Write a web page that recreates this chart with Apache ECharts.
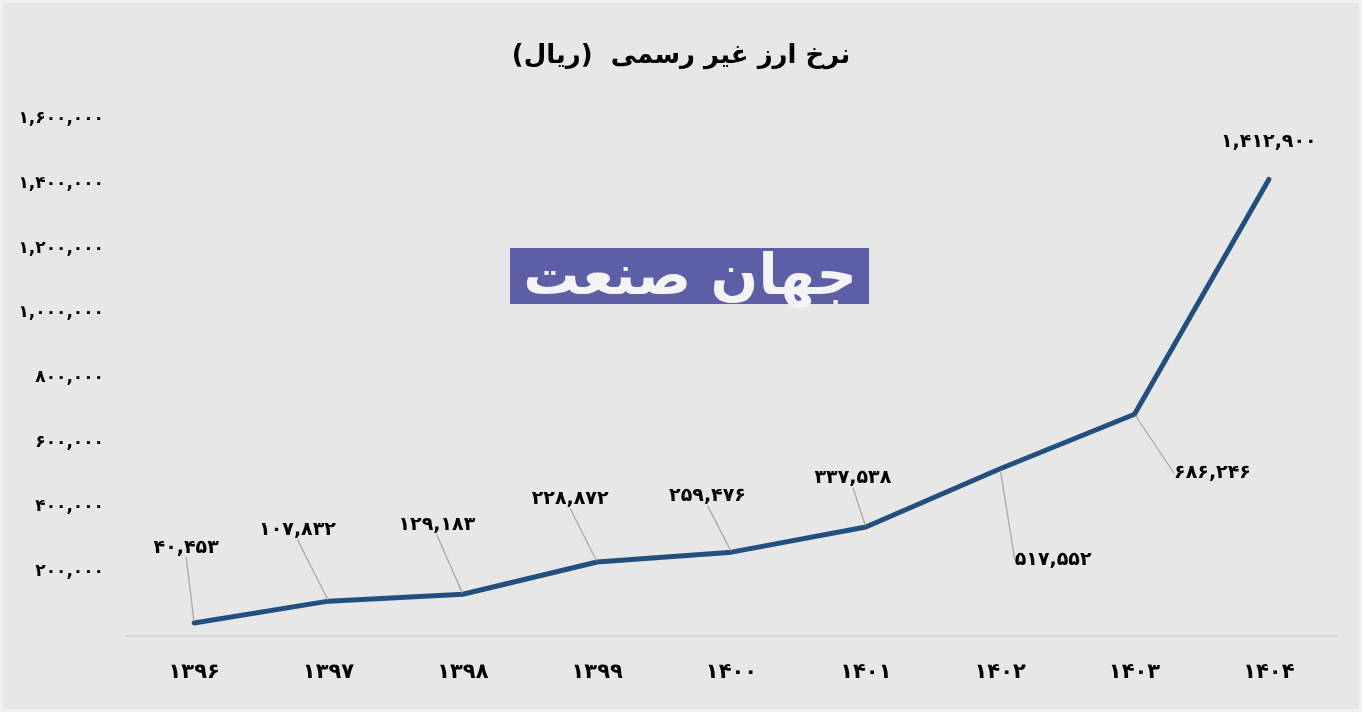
<!DOCTYPE html>
<html>
<head>
<meta charset="utf-8">
<script src="https://cdn.jsdelivr.net/npm/echarts@6/dist/echarts.min.js"></script>
<style>
  html, body { margin: 0; padding: 0; background: #f2f2f2; }
  #chart { width: 1362px; height: 712px; background: #e7e7e7; box-shadow: inset 0 0 0 3px #f0f0f0; }
</style>
</head>
<body>
<div id="chart"></div>
<script>
const titleText = 'نرخ ارز غیر رسمی  (ریال)';
const categories = ['۱۳۹۶', '۱۳۹۷', '۱۳۹۸', '۱۳۹۹', '۱۴۰۰', '۱۴۰۱', '۱۴۰۲', '۱۴۰۳', '۱۴۰۴'];
const rates = [40453, 107832, 129183, 228872, 259476, 337538, 517552, 686246, 1412900];
const yTicks = [0, 200000, 400000, 600000, 800000, 1000000, 1200000, 1400000, 1600000];
const logoText = 'جهان صنعت';

// label offsets from each point (layout, px) and whether a leader line is drawn
const labelOffsets = [[-8, -75], [-31, -71], [-26, -69], [-27, -63], [-24, -56], [-13, -49], [53, 91], [78, 59], [0, -37]];
const leaderShown = [true, true, true, true, true, true, true, true, false];

const FA = ['۰','۱','۲','۳','۴','۵','۶','۷','۸','۹'];
function toFa(n) {
  return n.toLocaleString('en-US').replace(/[0-9]/g, d => FA[+d]);
}
const FONT = '"DejaVu Sans", "Noto Sans", sans-serif';

const seriesData = rates.map((v, i) => ({ value: v, labelLine: { show: leaderShown[i] } }));

const chart = echarts.init(document.getElementById('chart'), null, { renderer: 'canvas' });
chart.setOption({
  animation: false,
  title: {
    text: titleText,
    left: 'center',
    top: 38,
    textStyle: { fontFamily: FONT, fontSize: 26, fontWeight: 'bold', color: '#000' }
  },
  grid: { left: 127, right: 26, top: 119, bottom: 76, containLabel: false },
  xAxis: {
    type: 'category',
    data: categories,
    boundaryGap: true,
    axisLine: { show: true, lineStyle: { color: '#d4d4d4', width: 2 } },
    axisTick: { show: false },
    axisLabel: { margin: 26, fontFamily: FONT, fontSize: 21, fontWeight: 'bold', color: '#000' },
    splitLine: { show: false }
  },
  yAxis: {
    type: 'value',
    min: yTicks[0],
    max: yTicks[yTicks.length - 1],
    interval: yTicks[1] - yTicks[0],
    axisLine: { show: false },
    axisTick: { show: false },
    splitLine: { show: false },
    axisLabel: {
      margin: 23,
      fontFamily: FONT, fontSize: 17, fontWeight: 'bold', color: '#000',
      formatter: v => (v === 0 ? '' : toFa(v))
    }
  },
  series: [{
    type: 'line',
    data: seriesData,
    symbol: 'circle',
    symbolSize: 3,
    showSymbol: true,
    itemStyle: { color: '#22507e' },
    lineStyle: { color: '#22507e', width: 5, cap: 'round', join: 'round' },
    label: {
      show: true,
      position: 'inside',
      fontFamily: FONT, fontSize: 19, fontWeight: 'bold', color: '#000',
      formatter: p => toFa(p.value)
    },
    labelLine: { show: true, lineStyle: { color: '#a8a8a8', width: 1.3 } },
    labelLayout: p => ({ dx: labelOffsets[p.dataIndex][0], dy: labelOffsets[p.dataIndex][1] })
  }],
  graphic: [{
    type: 'group',
    left: 510,
    top: 248,
    silent: true,
    children: [
      { type: 'rect', shape: { x: 0, y: 0, width: 359, height: 56 }, style: { fill: '#5c5fa6' } },
      { type: 'text', x: 180, y: 31, style: { text: logoText, fill: '#f4f4f4', font: 'bold 56px ' + FONT, align: 'center', verticalAlign: 'middle' } }
    ]
  }]
});
</script>
</body>
</html>
